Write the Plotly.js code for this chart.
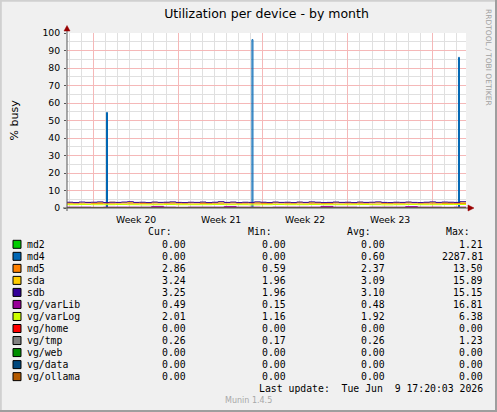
<!DOCTYPE html>
<html>
<head>
<meta charset="utf-8">
<script src="https://cdn.plot.ly/plotly-3.0.1.min.js"></script>
<style>
html, body { margin: 0; padding: 0; background: #f0f0f0; }
#chart { width: 497px; height: 412px; }
</style>
</head>
<body>
<div id="chart"></div>
<script>
// time axis in days since Mon 11 May 2026 (start of week 20)
const dayStart = -2.17
const dayEnd = 30.75
const weekStarts = [0, 7, 14, 21, 28]
const weekMids = [3.5, 10.5, 17.5, 24.5]
const weekLabels = ['Week 20', 'Week 21', 'Week 22', 'Week 23']

// legend table
const names = ['md2', 'md4', 'md5', 'sda', 'sdb', 'vg/varLib', 'vg/varLog', 'vg/home', 'vg/tmp', 'vg/web', 'vg/data', 'vg/ollama']
const colors = ['#00cc00', '#0066b3', '#ff8000', '#ffcc00', '#330099', '#990099', '#ccff00', '#ff0000', '#808080', '#008f00', '#00487d', '#b35a00']
const curVals = [0.00, 0.00, 2.86, 3.24, 3.25, 0.49, 2.01, 0.00, 0.26, 0.00, 0.00, 0.00]
const minVals = [0.00, 0.00, 0.59, 1.96, 1.96, 0.15, 1.16, 0.00, 0.17, 0.00, 0.00, 0.00]
const avgVals = [0.00, 0.60, 2.37, 3.09, 3.10, 0.48, 1.92, 0.00, 0.26, 0.00, 0.00, 0.00]
const maxVals = [1.21, 2287.81, 13.50, 15.89, 15.15, 16.81, 6.38, 0.00, 1.23, 0.00, 0.00, 0.00]

// % busy, evenly spaced bins across the month
const md2 = [0]
const md4 = [0]
const md4SpikeDays = [1.13, 13.13, 30.17]
const md4SpikeVals = [54.6, 96.2, 86.1]
const md5 = [
	2.4, 2.3, 2.5, 2.4, 2.3, 2.4, 2.5, 2.3, 2.4, 2.4,
	2.3, 2.5, 2.4, 2.3, 2.4, 2.4, 2.5, 2.3, 2.4, 2.3,
	2.4, 2.5, 2.3, 2.4, 2.4, 2.3, 2.5, 2.4, 2.3, 2.4,
	2.4, 2.5, 2.6]
const sda = [
	3.0, 3.1, 2.9, 3.2, 3.0, 3.1, 3.0, 3.3, 2.9, 3.1,
	3.2, 3.0, 3.1, 2.9, 3.2, 3.0, 3.1, 3.2, 3.0, 2.9,
	3.1, 3.0, 3.2, 2.9, 3.1, 3.3, 3.0, 3.2, 2.9, 3.1,
	3.0, 3.2, 3.1, 2.9, 3.2, 3.0, 3.1, 2.9, 3.2, 3.0,
	3.2, 3.1, 2.9, 3.0, 3.2, 3.0, 3.1, 2.9, 3.2, 3.0,
	3.1, 3.2, 3.0, 2.9, 3.1, 3.0, 3.2, 3.0, 2.9, 3.1,
	3.2, 3.0, 3.1, 3.1, 3.0, 3.3]
const sdb = [
	3.3, 3.1, 3.4, 3.2, 3.3, 3.5, 3.1, 3.3, 3.2, 3.4,
	3.6, 3.2, 3.3, 3.1, 3.4, 3.2, 3.3, 3.5, 3.2, 3.1,
	3.3, 3.2, 3.4, 3.1, 3.3, 3.6, 3.2, 3.4, 3.1, 3.3,
	3.2, 3.5, 3.3, 3.1, 3.4, 3.2, 3.3, 3.1, 3.4, 3.2,
	3.5, 3.3, 3.1, 3.2, 3.4, 3.2, 3.3, 3.1, 3.4, 3.2,
	3.3, 3.5, 3.2, 3.1, 3.3, 3.2, 3.4, 3.2, 3.1, 3.3,
	3.5, 3.2, 3.4, 3.3, 3.2, 3.6]
const varLib = [
	0.5, 0.5, 0.4, 0.5, 0.5, 0.5, 0.5, 0.9, 0.5, 0.4,
	0.5, 0.5, 0.5, 0.8, 0.5, 0.5, 0.4, 0.5, 0.5, 0.5,
	0.5, 0.9, 0.5, 0.5, 0.4, 0.5, 0.5, 0.5, 0.8, 0.5,
	0.5, 0.4, 0.5]
const varLog = [
	1.9, 2.0, 1.9, 1.9, 2.0, 1.9, 1.8, 1.9, 2.0, 1.9,
	1.9, 1.9, 2.0, 1.9, 1.9, 1.8, 1.9, 2.0, 1.9, 1.9,
	2.0, 1.9, 1.9, 1.9, 2.0, 1.9, 1.8, 1.9, 2.0, 1.9,
	1.9, 2.0, 2.0]
const home = [0]
const tmp = [0.3, 0.2, 0.3, 0.3, 0.2, 0.3, 0.2, 0.3, 0.3, 0.2, 0.3]
const web = [0]
const data = [0]
const ollama = [0]

const series = [md2, md4, md5, sda, sdb, varLib, varLog, home, tmp, web, data, ollama]

// pixel -> paper helpers (plot area 67..466 x 33..208)
const L = 67, R = 466, T = 33, B = 208
const px = x => (x - L) / (R - L)
const py = y => (B - y) / (B - T)

const stepLine = (vals, color) => {
	const n = vals.length
	const dt = (dayEnd - dayStart) / n
	const x = [], y = []
	for (let i = 0; i <= n; i++) {
		x.push(dayStart + i * dt)
		y.push(vals[Math.min(i, n - 1)])
	}
	return { x, y, type: 'scatter', mode: 'lines', line: { color, width: 1, shape: 'hv' }, hoverinfo: 'skip' }
}

const traces = series.map((vals, i) => {
	if (names[i] !== 'md4') return stepLine(vals, colors[i])
	// md4: flat line with a few 2-hour spikes
	const w = 1 / 12
	const x = [dayStart], y = [md4[0]]
	md4SpikeDays.forEach((d, k) => {
		x.push(d - w / 2); y.push(md4SpikeVals[k])
		x.push(d + w / 2); y.push(md4[0])
	})
	x.push(dayEnd); y.push(md4[0])
	return { x, y, type: 'scatter', mode: 'lines', line: { color: colors[i], width: 1, shape: 'hv' }, hoverinfo: 'skip' }
})

// day grid lines, skipping the week boundaries (drawn in red)
const dayGrid = []
for (let d = Math.ceil(dayStart); d <= dayEnd; d++)
	if (d % 7 !== 0) dayGrid.push(d)

const sans = 'DejaVu Sans'
const mono = 'DejaVu Sans Mono'
const annotations = []
const shapes = []
const ann = (text, x, y, xanchor, font, extra) => annotations.push(Object.assign({
	text, x, y, xref: 'paper', yref: 'paper', xanchor, yanchor: 'middle',
	showarrow: false, borderpad: 0, borderwidth: 0, font
}, extra || {}))

// axis labels
weekLabels.forEach((lab, i) => annotations.push({
	text: lab, x: weekMids[i], xref: 'x', y: py(219), yref: 'paper',
	xanchor: 'center', yanchor: 'middle', showarrow: false, borderpad: 0, borderwidth: 0,
	font: { family: sans, size: 9.3, color: '#000' }
}))
ann('% busy', px(14), py(120.5), 'center', { family: sans, size: 11, color: '#000' }, { textangle: -90 })
ann('RRDTOOL / TOBI OETIKER', px(489), py(57), 'center', { family: sans, size: 7.5, color: '#a0a0a0' }, { textangle: 90 })

// legend table
const lf = { family: mono, size: 9.8, color: '#000' }
const headY = 231.7
const rowY = i => 244.3 + i * 12.03
ann('Cur:', px(171.5), py(headY), 'right', lf)
ann('Min:', px(272), py(headY), 'right', lf)
ann('Avg:', px(371), py(headY), 'right', lf)
ann('Max:', px(469.5), py(headY), 'right', lf)
names.forEach((nm, i) => {
	const y = rowY(i)
	shapes.push({
		type: 'rect', xref: 'paper', yref: 'paper',
		x0: px(13), x1: px(21), y0: py(y + 4), y1: py(y - 4),
		fillcolor: colors[i], line: { color: '#000', width: 1 }
	})
	ann(nm, px(27), py(y), 'left', lf)
	ann(curVals[i].toFixed(2), px(185.5), py(y), 'right', lf)
	ann(minVals[i].toFixed(2), px(285.5), py(y), 'right', lf)
	ann(avgVals[i].toFixed(2), px(384.5), py(y), 'right', lf)
	ann(maxVals[i].toFixed(2), px(483.5), py(y), 'right', lf)
})
ann('Last update:\u00a0\u00a0Tue Jun\u00a0\u00a09 17:20:03 2026', px(483.5), py(388.3), 'right', lf)
ann('Munin 1.4.5', px(248), py(400.7), 'center', { family: sans, size: 8, color: '#a8a8a8' })

// axes with arrows
const axisColor = '#555555'
const arrowColor = '#990000'
shapes.push(
	{ type: 'line', xref: 'paper', yref: 'paper', x0: px(67), x1: px(67), y0: py(211), y1: py(29), line: { color: axisColor, width: 1 }, layer: 'above' },
	{ type: 'line', xref: 'paper', yref: 'paper', x0: px(63), x1: px(469), y0: py(208), y1: py(208), line: { color: axisColor, width: 1 }, layer: 'above' },
	{ type: 'path', xref: 'paper', yref: 'paper', fillcolor: arrowColor, line: { color: arrowColor, width: 0.5 }, layer: 'above',
		path: `M ${px(64)} ${py(31)} L ${px(70)} ${py(31)} L ${px(67)} ${py(25.5)} Z` },
	{ type: 'path', xref: 'paper', yref: 'paper', fillcolor: arrowColor, line: { color: arrowColor, width: 0.5 }, layer: 'above',
		path: `M ${px(468)} ${py(205)} L ${px(468)} ${py(211)} L ${px(474)} ${py(208)} Z` },
	// image border
	{ type: 'line', xref: 'paper', yref: 'paper', x0: px(0), x1: px(497), y0: py(0.8), y1: py(0.8), line: { color: '#d0d0d0', width: 2 } },
	{ type: 'line', xref: 'paper', yref: 'paper', x0: px(0.8), x1: px(0.8), y0: py(0), y1: py(412), line: { color: '#d0d0d0', width: 2 } },
	{ type: 'line', xref: 'paper', yref: 'paper', x0: px(0), x1: px(497), y0: py(411), y1: py(411), line: { color: '#9e9e9e', width: 2 } },
	{ type: 'line', xref: 'paper', yref: 'paper', x0: px(496), x1: px(496), y0: py(0), y1: py(412), line: { color: '#9e9e9e', width: 2 } }
)

// dotted munin grid, drawn as its blended tone
const majorGrid = '#f5b8b8'
const minorGrid = '#e0e0e0'

Plotly.newPlot('chart', traces, {
	width: 497,
	height: 412,
	margin: { l: L, r: 497 - R, t: T, b: 412 - B, pad: 0 },
	paper_bgcolor: '#f0f0f0',
	plot_bgcolor: '#ffffff',
	showlegend: false,
	title: {
		text: 'Utilization per device - by month',
		font: { family: sans, size: 12.5, color: '#000' },
		x: 0.5, xref: 'paper', xanchor: 'center',
		y: 1 - 14 / 412, yref: 'container', yanchor: 'middle'
	},
	xaxis: {
		range: [dayStart, dayEnd],
		tickvals: weekStarts,
		ticktext: weekStarts.map(() => ''),
		showgrid: true, gridcolor: majorGrid, gridwidth: 1,
		minor: { tickvals: dayGrid, showgrid: true, gridcolor: minorGrid, gridwidth: 1 },
		zeroline: false, showline: false, ticks: ''
	},
	yaxis: {
		range: [0, 100],
		tick0: 0, dtick: 10,
		showgrid: true, gridcolor: majorGrid, gridwidth: 1,
		minor: { tick0: 5, dtick: 10, showgrid: true, gridcolor: minorGrid, gridwidth: 1 },
		zeroline: false, showline: false,
		ticks: 'outside', ticklen: 2, tickcolor: axisColor, ticklabelstandoff: 2,
		tickfont: { family: sans, size: 9.3, color: '#000' }
	},
	annotations,
	shapes
}, { staticPlot: true, displayModeBar: false })
</script>
</body>
</html>
